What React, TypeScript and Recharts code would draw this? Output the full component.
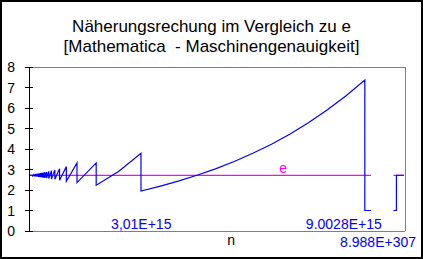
import { LineChart, Line, XAxis, YAxis, ReferenceLine, ReferenceDot } from 'recharts'

// n in units of 1E+15
const X_MAX = 10.08
const E = 2.718

// (1+1/n)^n computed in machine precision
const blueN = [
  0, 0, 0.1,
  0.1, 0.12, 0.12, 0.14, 0.14, 0.16, 0.16, 0.184,
  0.184, 0.192, 0.192, 0.2, 0.2, 0.21, 0.21, 0.22, 0.22, 0.231, 0.231, 0.243,
  0.243, 0.257, 0.257, 0.273, 0.273, 0.291, 0.291, 0.311, 0.311, 0.334,
  0.334, 0.36, 0.36, 0.392, 0.392, 0.429, 0.429, 0.474, 0.474, 0.53,
  0.53, 0.601, 0.601, 0.693, 0.693, 0.819, 0.819, 1.001, 1.001, 1.287,
  1.287, 1.801, 1.801, 2.4, 3.002,
  3.002, 3.5, 4, 4.5, 5, 5.5, 6, 6.5, 7, 7.5, 8, 8.5, 9.003,
  9.003, 9.17, 9.47, 9.77, 9.85, 9.85, 10.05,
]
const blueV = [
  2.0, 2.72, 2.72,
  2.7, 2.74, 2.68, 2.76, 2.67, 2.77, 2.665, 2.78,
  2.66, 2.78, 2.66, 2.78, 2.66, 2.79, 2.66, 2.79, 2.65, 2.79, 2.65, 2.8,
  2.65, 2.8, 2.64, 2.81, 2.64, 2.81, 2.63, 2.82, 2.63, 2.83,
  2.62, 2.84, 2.61, 2.85, 2.6, 2.87, 2.59, 2.88, 2.58, 2.91,
  2.56, 2.94, 2.54, 2.98, 2.52, 3.04, 2.48, 3.14, 2.43, 3.32,
  2.36, 3.32, 2.23, 2.9, 3.79,
  1.95, 2.18, 2.43, 2.72, 3.03, 3.39, 3.79, 4.23, 4.73, 5.29, 5.91, 6.6, 7.36,
  1.0, 1.0, null, 1.0, 1.0, 2.72, 2.72,
]

const eN = [0, 9.17, 9.47, 9.77, 10.05]
const eV = [E, E, null, E, E]

const yTicks = [0, 1, 2, 3, 4, 5, 6, 7, 8]

const noteText = ['3,01E+15', '9.0028E+15', '8.988E+307', 'n', 'e']
const noteN = [3.01, 8.44, 10.375, 5.42, 6.81]
const noteV = [0.08, 0.1, -0.8, -0.68, 2.85]
const noteAnchor = ['middle', 'middle', 'end', 'middle', 'middle']
const noteColor = ['#0000ff', '#0000ff', '#0000ff', '#000000', '#ff00ff']

const blueData = blueN.map((n, i) => ({ n, v: blueV[i] }))
const eData = eN.map((n, i) => ({ n, v: eV[i] }))

const TICK_SIZE = 4
const TICK_MARGIN = 10

function YTick(props: any) {
  const { x, y, payload } = props
  const axisX = x + TICK_SIZE + TICK_MARGIN
  return (
    <g>
      <line x1={axisX - 4} x2={axisX + 4} y1={y} y2={y} stroke="#000" shapeRendering="crispEdges" />
      <text x={x} y={y} dy="0.36em" textAnchor="end" fill="#000" fontSize={14}>
        {payload.value}
      </text>
    </g>
  )
}

export default function App() {
  return (
    <div
      style={{
        position: 'absolute',
        left: 0,
        top: 0,
        width: 423,
        height: 259,
        background: '#fff',
        fontFamily: '"Liberation Sans", Arial, sans-serif',
      }}
    >
      <div
        style={{
          position: 'absolute',
          top: 17,
          left: 0,
          width: 423,
          textAlign: 'center',
          fontSize: 17,
          lineHeight: '19.5px',
          whiteSpace: 'pre',
          color: '#000',
        }}
      >
        {'Näherungsrechung im Vergleich zu e\n[Mathematica  - Maschinengenauigkeit]'}
      </div>
      <LineChart width={423} height={259} margin={{ top: 67, right: 18, bottom: 0, left: 0 }}>
        <XAxis
          dataKey="n"
          type="number"
          domain={[0, X_MAX]}
          allowDataOverflow
          height={28}
          tick={false}
          tickLine={false}
          axisLine={{ stroke: '#808080', shapeRendering: 'crispEdges' }}
        />
        <YAxis
          domain={[0, 8]}
          ticks={yTicks}
          interval={0}
          width={29}
          tickSize={TICK_SIZE}
          tickMargin={TICK_MARGIN}
          tickLine={false}
          tick={<YTick />}
          axisLine={{ stroke: '#000', shapeRendering: 'crispEdges' }}
        />
        <ReferenceLine y={8} stroke="#808080" shapeRendering="crispEdges" />
        <ReferenceLine x={X_MAX} stroke="#808080" shapeRendering="crispEdges" />
        <Line
          data={eData}
          dataKey="v"
          stroke="#ff00ff"
          strokeWidth={1.2}
          dot={false}
          activeDot={false}
          connectNulls={false}
          isAnimationActive={false}
        />
        <Line
          data={blueData}
          dataKey="v"
          stroke="#0000ff"
          strokeWidth={1.2}
          dot={false}
          activeDot={false}
          connectNulls={false}
          isAnimationActive={false}
        />
        {noteText.map((t, i) => (
          <ReferenceDot
            key={t}
            x={noteN[i]}
            y={noteV[i]}
            r={0}
            fill="none"
            stroke="none"
            ifOverflow="visible"
            label={(p: any) => (
              <text
                x={p.viewBox.x}
                y={p.viewBox.y}
                textAnchor={noteAnchor[i]}
                fill={noteColor[i]}
                fontSize={14}
              >
                {t}
              </text>
            )}
          />
        ))}
      </LineChart>
      <div
        style={{
          position: 'absolute',
          inset: 0,
          border: '2px solid #000',
          boxSizing: 'border-box',
          pointerEvents: 'none',
        }}
      />
    </div>
  )
}
